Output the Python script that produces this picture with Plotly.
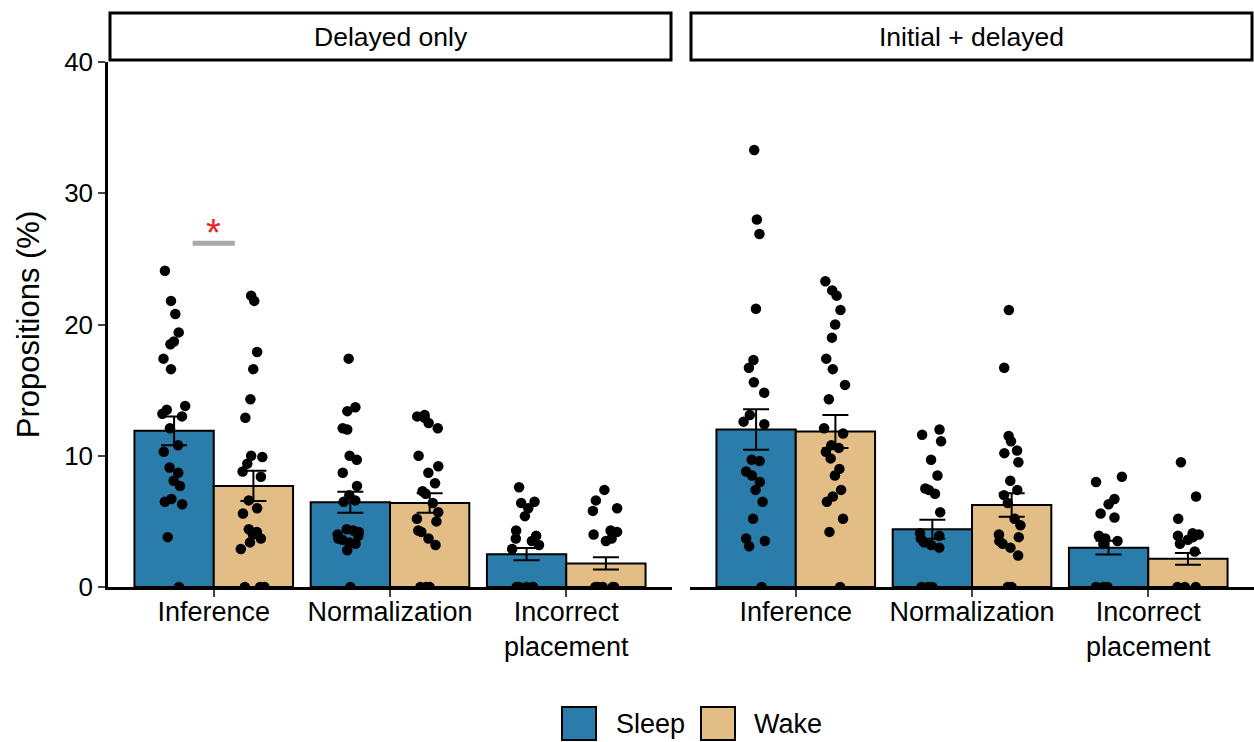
import plotly.graph_objects as go

# ---------------- data ----------------
categories = ["Inference", "Normalization", "Incorrect placement"]
tick_labels = ["Inference", "Normalization", "Incorrect<br>placement"]
panels = ["Delayed only", "Initial + delayed"]
groups = ["Sleep", "Wake"]

delayed_sleep_mean = [11.9, 6.45, 2.5]
delayed_wake_mean = [7.7, 6.4, 1.8]
delayed_sleep_se = [1.1, 0.8, 0.47]
delayed_wake_se = [1.15, 0.75, 0.46]

initial_sleep_mean = [12.0, 4.4, 3.0]
initial_wake_mean = [11.85, 6.25, 2.15]
initial_sleep_se = [1.55, 0.72, 0.52]
initial_wake_se = [1.25, 0.9, 0.45]

# individual participants (%)
delayed_sleep_inference = [24.1, 21.8, 20.8, 19.4, 18.7, 18.5, 17.4, 16.6, 13.8, 13.5, 13.2, 13.0,
                           12.1, 10.8, 10.3, 9.1, 8.7, 8.1, 7.7, 6.7, 6.5, 6.3, 3.8, 0]
delayed_wake_inference = [22.2, 21.8, 17.9, 16.6, 14.3, 12.9, 10.0, 9.9, 9.4, 8.8, 8.4, 6.6, 6.0,
                          5.6, 4.4, 4.2, 4.0, 3.7, 3.4, 2.9, 0, 0, 0]
delayed_sleep_normalization = [17.4, 13.7, 13.4, 12.1, 12.0, 10.0, 9.7, 8.7, 7.7, 7.0, 6.6, 6.5,
                               4.4, 4.3, 4.2, 4.0, 3.9, 3.7, 3.6, 3.4, 3.3, 2.8, 0]
delayed_wake_normalization = [13.1, 13.0, 12.9, 12.5, 12.1, 10.0, 9.2, 8.7, 7.9, 7.3, 7.1, 6.4,
                              5.7, 5.2, 5.0, 4.3, 4.2, 3.7, 3.2, 0, 0, 0]
delayed_sleep_incorrect = [7.6, 6.5, 6.4, 6.0, 5.4, 4.3, 3.9, 3.7, 3.5, 3.2, 2.9, 0, 0, 0, 0, 0]
delayed_wake_incorrect = [7.4, 6.6, 6.0, 5.8, 4.3, 4.2, 4.0, 3.7, 3.5, 0, 0, 0, 0, 0]

initial_sleep_inference = [33.3, 28.0, 26.9, 21.2, 17.3, 16.7, 15.6, 14.8, 13.1, 12.6, 12.4, 9.7,
                           9.6, 8.8, 8.5, 8.0, 7.4, 6.5, 5.2, 3.7, 3.5, 3.1, 0]
initial_wake_inference = [23.3, 22.6, 22.2, 21.1, 20.0, 19.0, 17.4, 16.6, 15.4, 14.3, 12.1, 11.7,
                          10.8, 10.6, 10.3, 9.8, 9.0, 8.5, 7.4, 6.9, 6.5, 5.2, 4.2, 0]
initial_sleep_normalization = [12.0, 11.6, 11.1, 9.7, 8.5, 7.5, 7.4, 7.1, 5.7, 4.1, 3.9, 3.7,
                               3.4, 3.2, 3.0, 0, 0, 0]
initial_wake_normalization = [21.1, 16.7, 11.5, 11.1, 10.4, 10.2, 9.5, 8.1, 7.4, 7.0, 6.4, 5.2,
                              4.7, 4.0, 3.8, 3.5, 3.3, 3.0, 2.4, 0, 0]
initial_sleep_incorrect = [8.4, 8.0, 6.7, 6.3, 5.6, 5.3, 3.9, 3.7, 3.5, 3.3, 0, 0, 0]
initial_wake_incorrect = [9.5, 6.9, 5.2, 4.1, 4.0, 3.9, 3.8, 3.6, 3.3, 2.7, 0, 0, 0]

# significance marker (panel, category, height)
sig_panel = "Delayed only"
sig_category = "Inference"
sig_height = 26.2
sig_label = "*"

# ---------------- styles ----------------
colors = {"Sleep": "#2A7DAA", "Wake": "#E3BD86"}
FONT = "Liberation Sans, Arial, sans-serif"
W, H = 1254, 742

def px_x(x):
    return x / W

def px_y(y):
    return 1 - y / H

panel_data = {
    "Delayed only": {
        "Sleep": (delayed_sleep_mean, delayed_sleep_se,
                  [delayed_sleep_inference, delayed_sleep_normalization, delayed_sleep_incorrect]),
        "Wake": (delayed_wake_mean, delayed_wake_se,
                 [delayed_wake_inference, delayed_wake_normalization, delayed_wake_incorrect]),
    },
    "Initial + delayed": {
        "Sleep": (initial_sleep_mean, initial_sleep_se,
                  [initial_sleep_inference, initial_sleep_normalization, initial_sleep_incorrect]),
        "Wake": (initial_wake_mean, initial_wake_se,
                 [initial_wake_inference, initial_wake_normalization, initial_wake_incorrect]),
    },
}

axes = {"Delayed only": ("x", "y"), "Initial + delayed": ("x2", "y2")}

fig = go.Figure()

# bars
for panel in panels:
    xa, ya = axes[panel]
    for g in groups:
        mean, se, _ = panel_data[panel][g]
        fig.add_trace(go.Bar(
            x=categories, y=mean, name=g, xaxis=xa, yaxis=ya,
            alignmentgroup="bar_" + panel, offsetgroup=g,
            marker=dict(color=colors[g], line=dict(color="black", width=2)),
            error_y=dict(type="data", array=se, color="black", thickness=2, width=13),
            showlegend=False,
        ))

# jittered points
for panel in panels:
    xa, ya = axes[panel]
    for g in groups:
        _, _, pts = panel_data[panel][g]
        xs, ys = [], []
        for cat, vals in zip(categories, pts):
            xs += [cat] * len(vals)
            ys += vals
        fig.add_trace(go.Box(
            x=xs, y=ys, name=g, xaxis=xa, yaxis=ya,
            alignmentgroup="box_" + panel, offsetgroup=g,
            boxpoints="all", jitter=0.75, pointpos=0,
            fillcolor="rgba(0,0,0,0)", line=dict(width=0, color="rgba(0,0,0,0)"),
            whiskerwidth=0, marker=dict(color="black", size=10.5, line=dict(width=0)),
            hoveron="points", showlegend=False,
        ))

y_dom = [px_y(587), px_y(62)]
xaxis_common = dict(
    type="category", categoryorder="array", categoryarray=categories,
    range=[-0.6, 2.6], showgrid=False, zeroline=False, automargin=False,
    showline=True, linecolor="black", linewidth=2.5,
    ticks="outside", ticklen=7, tickwidth=2, tickcolor="#444444",
    tickvals=categories, ticktext=tick_labels, ticklabelstandoff=-8,
    tickfont=dict(family=FONT, size=27, color="black"),
)
fig.update_layout(
    width=W, height=H, autosize=False,
    margin=dict(l=0, r=0, t=0, b=0, autoexpand=False),
    paper_bgcolor="white", plot_bgcolor="white",
    barmode="group", bargap=0.1, bargroupgap=0,
    boxmode="group", boxgap=0.1, boxgroupgap=0.5,
    font=dict(family=FONT, color="black"),
    xaxis=dict(domain=[px_x(108), px_x(672)], anchor="y", **xaxis_common),
    xaxis2=dict(domain=[px_x(690), 1.0], anchor="y2", **xaxis_common),
    yaxis=dict(
        domain=y_dom, anchor="x", range=[0, 40], tickvals=[0, 10, 20, 30, 40],
        showgrid=False, zeroline=False, showline=True, linecolor="black", linewidth=2.5,
        ticks="outside", ticklen=7, tickwidth=2, tickcolor="#444444", automargin=False,
        tickfont=dict(family=FONT, size=26, color="black"),
        title=dict(text="Propositions (%)", font=dict(family=FONT, size=31, color="black"), standoff=16),
    ),
    yaxis2=dict(
        domain=y_dom, anchor="x2", range=[0, 40], matches="y", automargin=False,
        showgrid=False, zeroline=False, showline=False, showticklabels=False, ticks="",
    ),
    showlegend=False,
)

shapes = []
annotations = []

# facet strips
strip_x = {"Delayed only": (110, 671), "Initial + delayed": (691, 1252)}
for panel in panels:
    x0, x1 = strip_x[panel]
    shapes.append(dict(type="rect", xref="paper", yref="paper",
                       x0=px_x(x0), x1=px_x(x1), y0=px_y(60), y1=px_y(13),
                       line=dict(color="black", width=3), fillcolor="white"))
    annotations.append(dict(xref="paper", yref="paper", x=px_x((x0 + x1) / 2), y=px_y(37),
                            text=panel, showarrow=False, xanchor="center", yanchor="middle",
                            font=dict(family=FONT, size=26.5, color="black")))

# significance bar
xa, ya = axes[sig_panel]
ci = categories.index(sig_category)
shapes.append(dict(type="line", xref=xa, yref=ya, x0=ci - 0.12, x1=ci + 0.12,
                   y0=sig_height, y1=sig_height, line=dict(color="#AAAAAA", width=5)))
annotations.append(dict(xref=xa, yref=ya, x=ci, y=sig_height, text=sig_label, showarrow=False,
                        yanchor="bottom", yshift=-13, font=dict(family=FONT, size=38, color="#E8202A")))

# legend (drawn manually to match the large key boxes)
legend_boxes = {"Sleep": (562, 614), "Wake": (701, 752)}
for g in groups:
    bx, tx = legend_boxes[g]
    shapes.append(dict(type="rect", xref="paper", yref="paper",
                       x0=px_x(bx), x1=px_x(bx + 34), y0=px_y(740), y1=px_y(707),
                       line=dict(color="black", width=2), fillcolor=colors[g]))
    annotations.append(dict(xref="paper", yref="paper", x=px_x(tx), y=px_y(723.5), text=g,
                            showarrow=False, xanchor="left", yanchor="middle",
                            font=dict(family=FONT, size=27, color="black")))

fig.update_layout(shapes=shapes, annotations=annotations)
fig.write_html("out.html")
